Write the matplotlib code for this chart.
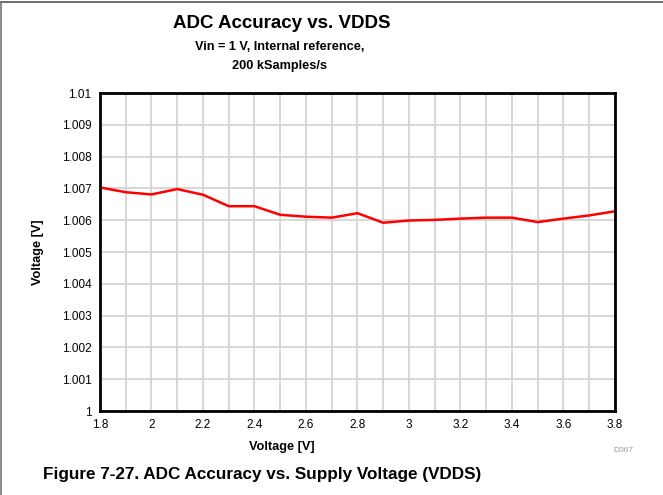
import numpy as np
import matplotlib.pyplot as plt
from matplotlib.lines import Line2D

vdds = [1.8, 1.9, 2.0, 2.1, 2.2, 2.3, 2.4, 2.5, 2.6, 2.7, 2.8,
        2.9, 3.0, 3.1, 3.2, 3.3, 3.4, 3.5, 3.6, 3.7, 3.8]
vout = [1.00703, 1.00688, 1.00681, 1.00698, 1.00680, 1.00644, 1.00644,
        1.00617, 1.00611, 1.00608, 1.00622, 1.00592, 1.00599, 1.00601,
        1.00605, 1.00608, 1.00608, 1.00594, 1.00605, 1.00615, 1.00628]
xticks = [1.8, 2.0, 2.2, 2.4, 2.6, 2.8, 3.0, 3.2, 3.4, 3.6, 3.8]
xtick_labels = ['1.8', '2', '2.2', '2.4', '2.6', '2.8', '3', '3.2', '3.4', '3.6', '3.8']
yticks = [1.0, 1.001, 1.002, 1.003, 1.004, 1.005, 1.006, 1.007, 1.008, 1.009, 1.01]
ytick_labels = ['1', '1.001', '1.002', '1.003', '1.004', '1.005', '1.006',
                '1.007', '1.008', '1.009', '1.01']

plt.rcParams['font.family'] = ['Liberation Sans', 'DejaVu Sans']

W, H = 663, 495
fig = plt.figure(figsize=(W / 100, H / 100), dpi=100)

def fx(px):
    return px / W

def fy(py):
    return 1 - py / H

# plot area in pixels: left 100, right 615, top 93, bottom 411
ax = fig.add_axes([fx(100), fy(411), fx(615 - 100), (411 - 93) / H])
ax.set_xlim(1.8, 3.8)
ax.set_ylim(1.0, 1.01)
ax.set_xticks(np.arange(1.8, 3.81, 0.1), minor=True)
ax.set_xticks(xticks)
ax.set_xticklabels(xtick_labels)
ax.set_yticks(yticks)
ax.set_yticklabels(ytick_labels)
ax.grid(True, which='both', color='#d4d4d4', linewidth=1.3)
ax.set_axisbelow(True)
ax.tick_params(which='both', length=0, labelsize=8.5, pad=6)
for s in ax.spines.values():
    s.set_linewidth(2)
    s.set_color('black')

ax.plot(vdds, vout, color='#ff0000', linewidth=1.8)

# page border
fig.add_artist(Line2D([0, 1], [fy(2), fy(2)], color='#555555', linewidth=1.2))
fig.add_artist(Line2D([fx(1), fx(1)], [0, fy(2)], color='#777777', linewidth=1.2))

fig.text(fx(282), fy(23), 'ADC Accuracy vs. VDDS', ha='center', va='center',
         fontsize=13.5, fontweight='bold')
fig.text(fx(280), fy(47), 'Vin = 1 V, Internal reference,', ha='center', va='center',
         fontsize=9.2, fontweight='bold')
fig.text(fx(280), fy(66), '200 kSamples/s', ha='center', va='center',
         fontsize=9.2, fontweight='bold')
fig.text(fx(282), fy(447), 'Voltage [V]', ha='center', va='center',
         fontsize=9.2, fontweight='bold')
fig.text(fx(38), fy(252), 'Voltage [V]', ha='center', va='center', rotation=90,
         fontsize=9.2, fontweight='bold')
fig.text(fx(623), fy(451), 'D067', ha='center', va='center',
         fontsize=6, color='#999999')
fig.text(fx(262), fy(475), 'Figure 7-27. ADC Accuracy vs. Supply Voltage (VDDS)',
         ha='center', va='center', fontsize=12.3, fontweight='bold')

fig.savefig('out.png', dpi=100)
